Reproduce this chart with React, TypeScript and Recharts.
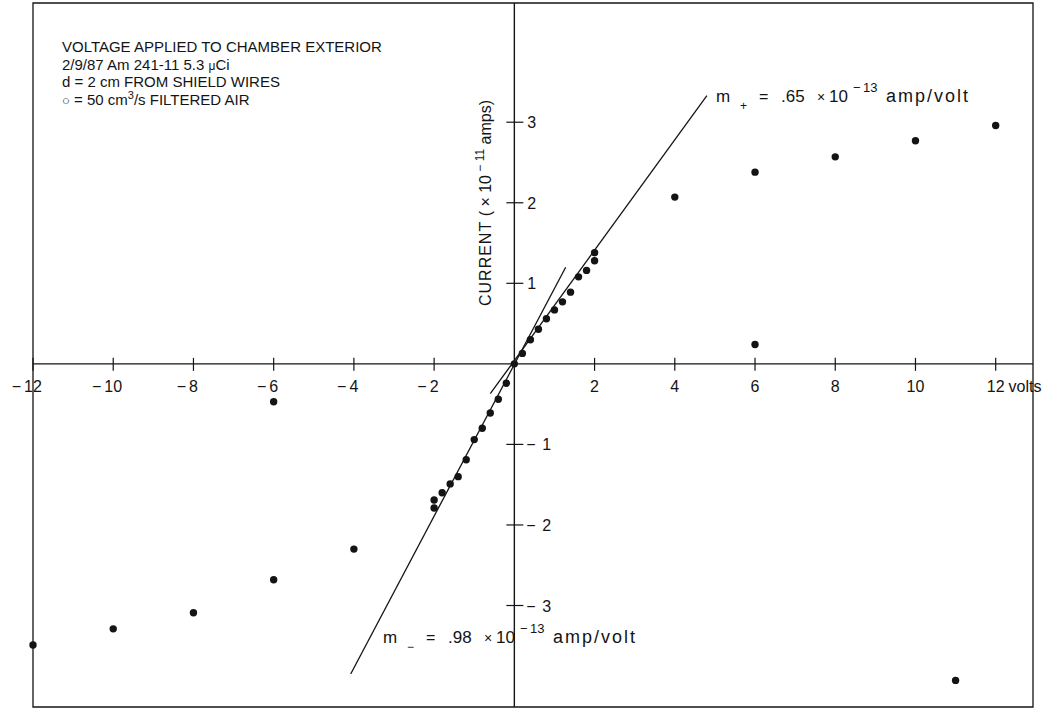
import { ScatterChart, Scatter, XAxis, YAxis, ReferenceLine, ReferenceArea } from 'recharts';

// Fine sweep around zero, 0.2 V steps (two readings at each ±2 V end)
const sweepVolts = [-2, -2, -1.8, -1.6, -1.4, -1.2, -1, -0.8, -0.6, -0.4, -0.2, 0, 0.2, 0.4, 0.6, 0.8, 1, 1.2, 1.4, 1.6, 1.8, 2, 2];
const sweepCurrent = [-1.79, -1.69, -1.6, -1.49, -1.4, -1.19, -0.94, -0.8, -0.61, -0.44, -0.24, 0, 0.13, 0.3, 0.43, 0.56, 0.67, 0.77, 0.89, 1.08, 1.16, 1.28, 1.38];

// Coarse 2 V steps out to ±12 V
const coarseVolts = [-12, -10, -8, -6, -4, 4, 6, 8, 10, 12];
const coarseCurrent = [-3.49, -3.29, -3.09, -2.68, -2.3, 2.07, 2.38, 2.57, 2.77, 2.96];

// Stray readings
const strayVolts = [-6, 6, 11];
const strayCurrent = [-0.47, 0.24, -3.93];

// Fitted slopes (end points of the drawn lines)
const plusFitVolts = [-0.6, 4.8];
const plusFitCurrent = [-0.37, 3.33];
const minusFitVolts = [-4.08, 1.28];
const minusFitCurrent = [-3.85, 1.2];

// Axis ticks
const voltTicks = [-12, -10, -8, -6, -4, -2, 2, 4, 6, 8, 10, 12];
const currentTicks = [-3, -2, -1, 1, 2, 3];
const voltUnit = 'volts';

const X_DOMAIN: [number, number] = [-12, 12.93];
const Y_DOMAIN: [number, number] = [-4.26, 4.48];

const INK = '#141414';
const FONT = "'Liberation Sans', Arial, Helvetica, sans-serif";

const zip = (xs: number[], ys: number[]) => xs.map((v, k) => ({ v, i: ys[k] }));

const sweepData = zip(sweepVolts, sweepCurrent);
const coarseData = zip(coarseVolts, coarseCurrent);
const strayData = zip(strayVolts, strayCurrent);
const voltTickData = voltTicks.map((v) => ({ v, i: 0 }));
const currentTickData = currentTicks.map((i) => ({ v: 0, i }));

const Dot = (p: any) => <circle cx={p.cx} cy={p.cy} r={3.7} fill={INK} />;

const VoltTick = (p: any) => {
  const v: number = p.payload.v;
  const digits = String(Math.abs(v));
  const fs = 16;
  const half = (digits.length * 0.556 * fs) / 2;
  const base = p.cy + 28;
  return (
    <g fontFamily={FONT} fontSize={fs} fill={INK}>
      <line x1={p.cx} x2={p.cx} y1={p.cy - 6} y2={p.cy + 7} stroke={INK} strokeWidth={1.2} />
      {v < 0 && (
        <text x={p.cx - half - 3} y={base} textAnchor="end">
          −
        </text>
      )}
      <text x={p.cx} y={base} textAnchor="middle">
        {digits}
      </text>
      {v === voltTicks[voltTicks.length - 1] && (
        <text x={p.cx + half + 4} y={base}>
          {voltUnit}
        </text>
      )}
    </g>
  );
};

const CurrentTick = (p: any) => {
  const i: number = p.payload.i;
  const base = p.cy + 6;
  return (
    <g fontFamily={FONT} fontSize={16} fill={INK}>
      <line x1={p.cx - 8} x2={p.cx + 9} y1={p.cy} y2={p.cy} stroke={INK} strokeWidth={1.2} />
      {i < 0 ? (
        <>
          <text x={p.cx + 12} y={base}>−</text>
          <text x={p.cx + 28} y={base}>{Math.abs(i)}</text>
        </>
      ) : (
        <text x={p.cx + 13} y={base}>{i}</text>
      )}
    </g>
  );
};

// "m± = .xx × 10^-13 amp/volt" slope label
const SlopeLabel = ({ x, y, sign, value }: { x: number; y: number; sign: string; value: string }) => (
  <g fontFamily={FONT} fill={INK}>
    <text x={x} y={y} fontSize={17}>m</text>
    <text x={x + 24} y={y + 8} fontSize={12}>{sign}</text>
    <text x={x + 43} y={y} fontSize={16}>=</text>
    <text x={x + 65} y={y} fontSize={17}>{value}</text>
    <text x={x + 101} y={y} fontSize={14}>×</text>
    <text x={x + 113} y={y} fontSize={17}>10</text>
    <text x={x + 137} y={y - 10} fontSize={13}>−</text>
    <text x={x + 147} y={y - 10} fontSize={13}>13</text>
    <text x={x + 170} y={y} fontSize={18} letterSpacing={2}>amp/volt</text>
  </g>
);

export default function App() {
  return (
    <div style={{ position: 'absolute', left: 0, top: 0, width: 1055, height: 727, background: '#fff' }}>
      <ScatterChart width={1055} height={727} margin={{ top: 3, right: 22, bottom: 20, left: 33 }}>
        <XAxis type="number" dataKey="v" domain={X_DOMAIN} hide />
        <YAxis type="number" dataKey="i" domain={Y_DOMAIN} hide />

        <ReferenceArea
          x1={X_DOMAIN[0]}
          x2={X_DOMAIN[1]}
          y1={Y_DOMAIN[0]}
          y2={Y_DOMAIN[1]}
          fill="none"
          stroke={INK}
          strokeWidth={1.3}
          ifOverflow="visible"
        />
        <ReferenceLine x={0} stroke={INK} strokeWidth={1.4} />
        <ReferenceLine y={0} stroke={INK} strokeWidth={1.4} />

        <ReferenceLine
          segment={[
            { x: plusFitVolts[0], y: plusFitCurrent[0] },
            { x: plusFitVolts[1], y: plusFitCurrent[1] },
          ]}
          stroke={INK}
          strokeWidth={1.3}
        />
        <ReferenceLine
          segment={[
            { x: minusFitVolts[0], y: minusFitCurrent[0] },
            { x: minusFitVolts[1], y: minusFitCurrent[1] },
          ]}
          stroke={INK}
          strokeWidth={1.3}
        />

        <Scatter data={voltTickData} shape={VoltTick} isAnimationActive={false} />
        <Scatter data={currentTickData} shape={CurrentTick} isAnimationActive={false} />
        <Scatter data={sweepData} shape={Dot} isAnimationActive={false} />
        <Scatter data={coarseData} shape={Dot} isAnimationActive={false} />
        <Scatter data={strayData} shape={Dot} isAnimationActive={false} />
      </ScatterChart>

      <svg
        width={1055}
        height={727}
        style={{ position: 'absolute', left: 0, top: 0, pointerEvents: 'none' }}
      >
        <g fontFamily={FONT} fontSize={15} fill={INK}>
          <text x={62} y={52}>VOLTAGE APPLIED TO CHAMBER EXTERIOR</text>
          <text x={62} y={69.5}>
            2/9/87 Am 241-11 5.3 <tspan fontSize={12}>μ</tspan>Ci
          </text>
          <text x={62} y={87}>d = 2 cm FROM SHIELD WIRES</text>
          <text x={62} y={104.5}>
            <tspan fontSize={13}>○</tspan> = 50 cm<tspan fontSize={11} dy={-6}>3</tspan>
            <tspan dy={6}>/s FILTERED AIR</tspan>
          </text>
        </g>

        <text
          transform="translate(491, 203) rotate(-90)"
          textAnchor="middle"
          fontFamily={FONT}
          fontSize={16}
          fill={INK}
        >
          <tspan letterSpacing={1}>CURRENT</tspan> ( × 10
          <tspan fontSize={12} dy={-7}> − 11</tspan>
          <tspan dy={7}> amps)</tspan>
        </text>

        <SlopeLabel x={716} y={102} sign="+" value=".65" />
        <SlopeLabel x={383} y={643} sign="−" value=".98" />
      </svg>
    </div>
  );
}
